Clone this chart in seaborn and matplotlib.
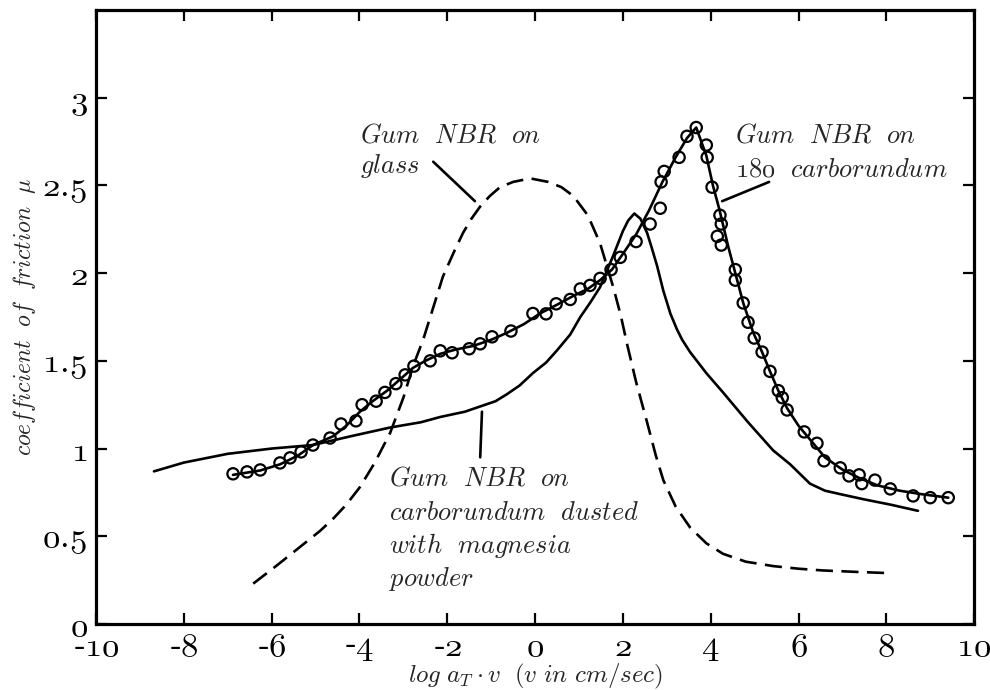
import matplotlib
matplotlib.use("Agg")
import matplotlib.pyplot as plt
import seaborn as sns

# ---------------- data ----------------
# Gum NBR on glass (dashed curve)
glass_x = [-6.42, -5.9, -5.35, -4.9, -4.6, -4.3, -3.99, -3.65, -3.30, -3.0, -2.78, -2.55,
           -2.30, -2.10, -1.85, -1.64, -1.45, -1.25, -1.03, -0.8, -0.5, -0.11, 0.3, 0.6,
           0.87, 1.2, 1.48, 1.78, 1.95, 2.10, 2.30, 2.55, 2.75, 2.92, 3.2, 3.53, 3.9,
           4.28, 4.8, 5.42, 6.0, 6.56, 7.3, 8.04]
glass_y = [0.23, 0.33, 0.44, 0.53, 0.60, 0.68, 0.78, 0.92, 1.09, 1.29, 1.47, 1.62,
           1.82, 1.98, 2.12, 2.23, 2.31, 2.38, 2.44, 2.49, 2.52, 2.54, 2.52, 2.49,
           2.44, 2.33, 2.17, 1.92, 1.76, 1.59, 1.38, 1.15, 0.96, 0.82, 0.67, 0.55, 0.46,
           0.40, 0.355, 0.33, 0.315, 0.305, 0.297, 0.29]

# Gum NBR on carborundum dusted with magnesia powder (solid curve)
magn_x = [-8.68, -8.0, -7.0, -6.0, -5.06, -4.2, -3.30, -2.6, -2.16, -1.6, -1.25, -0.9,
          -0.64, -0.35, -0.05, 0.25, 0.50, 0.8, 1.03, 1.25, 1.48, 1.78, 2.0, 2.12, 2.26,
          2.40, 2.55, 2.65, 2.78, 2.92, 3.08, 3.23, 3.35, 3.53, 3.9, 4.28, 4.85, 5.42,
          5.81, 6.26, 6.6, 6.95, 7.5, 8.1, 8.72]
magn_y = [0.87, 0.92, 0.97, 1.00, 1.02, 1.07, 1.12, 1.15, 1.18, 1.21, 1.24, 1.27,
          1.31, 1.36, 1.43, 1.49, 1.56, 1.65, 1.75, 1.83, 1.92, 2.10, 2.24, 2.30, 2.34,
          2.31, 2.23, 2.15, 2.04, 1.90, 1.77, 1.68, 1.62, 1.55, 1.43, 1.32, 1.15, 0.99,
          0.91, 0.80, 0.76, 0.74, 0.71, 0.68, 0.645]

# Gum NBR on 180 carborundum: fitted curve
carb_x = [-6.88, -6.26, -5.81, -5.4, -5.06, -4.6, -4.3, -3.99, -3.7, -3.37, -3.05, -2.78,
          -2.5, -2.16, -1.8, -1.41, -1.0, -0.64, -0.25, 0.11, 0.5, 0.87, 1.2, 1.48, 1.75,
          2.0, 2.3, 2.6, 2.9, 3.2, 3.46, 3.67, 3.9, 4.05, 4.2, 4.4, 4.56, 4.74, 4.97,
          5.17, 5.35, 5.54, 5.74, 6.0, 6.3, 6.6, 7.0, 7.4, 7.8, 8.3, 8.8, 9.41]
carb_y = [0.85, 0.875, 0.91, 0.96, 1.02, 1.07, 1.13, 1.21, 1.27, 1.33, 1.40, 1.46,
          1.50, 1.54, 1.565, 1.585, 1.62, 1.66, 1.71, 1.77, 1.82, 1.87, 1.91, 1.96, 2.02,
          2.11, 2.22, 2.36, 2.52, 2.66, 2.77, 2.83, 2.67, 2.50, 2.36, 2.15, 2.00, 1.83, 1.66,
          1.55, 1.44, 1.33, 1.23, 1.13, 1.04, 0.95, 0.88, 0.83, 0.79, 0.76, 0.74, 0.72]

# Gum NBR on 180 carborundum: measured points (circles)
pts_x = [-6.88, -6.56, -6.26, -5.81, -5.58, -5.33, -5.06, -4.67, -4.42, -4.08, -3.94,
         -3.62, -3.42, -3.17, -2.96, -2.76, -2.39, -2.16, -1.89, -1.50, -1.25, -0.98,
         -0.55, -0.05, 0.25, 0.48, 0.80, 1.03, 1.25, 1.48, 1.73, 1.94, 2.30, 2.62, 2.85,
         2.87, 2.94, 3.28, 3.46, 3.67, 3.90, 3.92, 4.03, 4.21, 4.24, 4.15, 4.24, 4.56,
         4.56, 4.74, 4.85, 4.99, 5.17, 5.35, 5.54, 5.63, 5.74, 6.13, 6.42, 6.58, 6.95,
         7.15, 7.38, 7.44, 7.74, 8.09, 8.61, 9.00, 9.41]
pts_y = [0.856, 0.867, 0.878, 0.918, 0.947, 0.981, 1.02, 1.06, 1.14, 1.158, 1.25,
         1.27, 1.32, 1.37, 1.42, 1.47, 1.50, 1.557, 1.546, 1.569, 1.597, 1.637,
         1.67, 1.77, 1.768, 1.825, 1.85, 1.91, 1.93, 1.97, 2.02, 2.09, 2.18, 2.28, 2.37,
         2.52, 2.58, 2.66, 2.78, 2.83, 2.73, 2.66, 2.49, 2.33, 2.28, 2.21, 2.16, 2.02,
         1.96, 1.83, 1.72, 1.63, 1.55, 1.44, 1.33, 1.29, 1.22, 1.095, 1.03, 0.93, 0.89,
         0.844, 0.85, 0.80, 0.82, 0.77, 0.73, 0.72, 0.72]

x_ticks = [-10, -8, -6, -4, -2, 0, 2, 4, 6, 8, 10]
x_tick_labels = ["-10", "-8", "-6", "-4", "-2", "0", "2", "4", "6", "8", "10"]
y_ticks = [0, 0.5, 1, 1.5, 2, 2.5, 3]
y_tick_labels = ["0", "0.5", "1", "1.5", "2", "2.5", "3"]

# ---------------- style ----------------
sns.set_theme(style="ticks")
plt.rcParams["mathtext.fontset"] = "cm"
plt.rcParams["font.family"] = ["cmr10", "DejaVu Serif"]
plt.rcParams["axes.unicode_minus"] = False

# Computer Modern math-italic font carries old-style figures at the digit positions
OLD_FAMILY = ["cmmi10"]


def oldstyle(label):
    """Old-style digits (default font = cmmi10), hyphen and period from roman."""
    out = ""
    if label.startswith("-"):
        out += "\\mathrm{\u2010}"
        label = label[1:]
    parts = label.split(".")
    out += "\\mathrm{.}\\!".join("\\mathdefault{%s}" % p for p in parts)
    return "$" + out + "$"


fig, ax = plt.subplots(figsize=(9.9, 6.9), dpi=100)
fig.subplots_adjust(left=0.097, right=0.984, bottom=0.0957, top=0.9855)

LW = 1.9
sns.lineplot(x=glass_x, y=glass_y, ax=ax, sort=False, estimator=None,
             color="black", lw=LW, linestyle=(0, (6.5, 3.2)))
sns.lineplot(x=magn_x, y=magn_y, ax=ax, sort=False, estimator=None,
             color="black", lw=LW)
sns.lineplot(x=carb_x, y=carb_y, ax=ax, sort=False, estimator=None,
             color="black", lw=LW)
sns.scatterplot(x=pts_x, y=pts_y, ax=ax, marker="o", s=66, color="black",
                facecolor="none", edgecolor="black", linewidth=1.6, zorder=3)

ax.set_xlim(-10, 10)
ax.set_ylim(0, 3.5)
ax.set_xticks(x_ticks)
ax.set_xticklabels([oldstyle(t) for t in x_tick_labels], fontfamily=OLD_FAMILY)
ax.set_yticks(y_ticks)
ax.set_yticklabels([oldstyle(t) for t in y_tick_labels], fontfamily=OLD_FAMILY)
ax.tick_params(direction="in", length=8, width=1.6, top=True, right=True,
               labelsize=25, colors="black")
ax.tick_params(axis="x", pad=6)
ax.tick_params(axis="y", pad=6)
for sp in ax.spines.values():
    sp.set_linewidth(2.3)
    sp.set_color("black")

ax.set_xlabel(r"$log\ a_T\cdot v\ \ (v\ in\ cm/sec)$", fontsize=18)
ax.xaxis.set_label_coords(0.5, -0.062)
ax.set_ylabel(r"$coefficient\ \ of\ \ friction\ \ \mu$", fontsize=17)
ax.yaxis.set_label_coords(-0.066, 0.5)

TS = 19
sp2 = r"\ \ "
ax.text(-3.99, 2.744, r"$Gum%sNBR%son$" % (sp2, sp2), fontsize=TS, ha="left", va="baseline")
ax.text(-3.99, 2.573, r"$glass$", fontsize=TS, ha="left", va="baseline")
ax.annotate("", xy=(-1.37, 2.41), xytext=(-2.32, 2.635),
            arrowprops=dict(arrowstyle="-", lw=LW, color="black", shrinkA=0, shrinkB=0))

ax.text(4.56, 2.744, r"$Gum%sNBR%son$" % (sp2, sp2), fontsize=TS, ha="left", va="baseline")
ax.text(4.56, 2.55, r"$\mathdefault{180}%scarborundum$" % sp2, fontsize=TS,
        ha="left", va="baseline", fontfamily=OLD_FAMILY)
ax.annotate("", xy=(4.26, 2.41), xytext=(5.33, 2.52),
            arrowprops=dict(arrowstyle="-", lw=LW, color="black", shrinkA=0, shrinkB=0))

ax.text(-3.33, 0.787, r"$Gum%sNBR%son$" % (sp2, sp2), fontsize=TS, ha="left", va="baseline")
ax.text(-3.33, 0.593, r"$carborundum%sdusted$" % sp2, fontsize=TS, ha="left", va="baseline")
ax.text(-3.33, 0.405, r"$with%smagnesia$" % sp2, fontsize=TS, ha="left", va="baseline")
ax.text(-3.33, 0.217, r"$powder$", fontsize=TS, ha="left", va="baseline")
ax.annotate("", xy=(-1.21, 1.21), xytext=(-1.25, 0.95),
            arrowprops=dict(arrowstyle="-", lw=LW, color="black", shrinkA=0, shrinkB=0))

fig.savefig("out.png", dpi=100)
